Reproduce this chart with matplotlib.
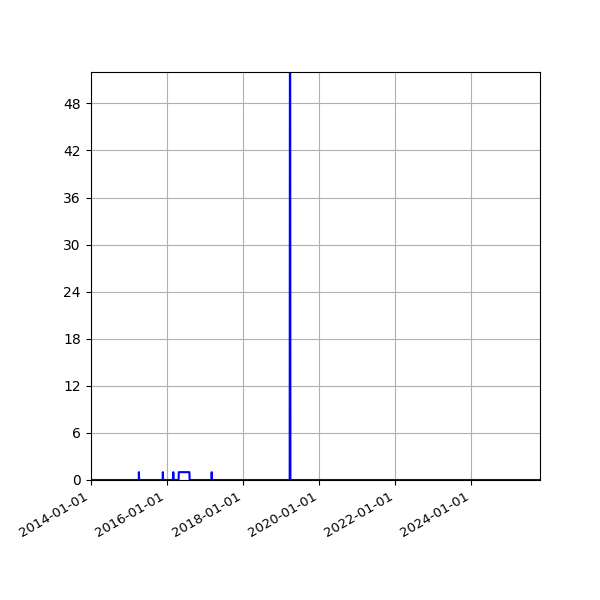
import numpy as np
import pandas as pd
import matplotlib
matplotlib.use('Agg')
import matplotlib.pyplot as plt
import matplotlib.dates as mdates
from matplotlib.ticker import MultipleLocator

# rango de la serie diaria
inicio = '2014-01-01'
fin = '2025-10-26'

# eventos (inicio, fin, valor); fuera de ellos la serie vale 0
ev_inicio = ['2015-04-10', '2015-11-26', '2016-03-05', '2016-04-26', '2017-03-09', '2019-03-29']
ev_fin    = ['2015-04-10', '2015-11-26', '2016-03-05', '2016-08-07', '2017-03-09', '2019-04-02']
ev_valor  = [1, 1, 1, 1, 1, 52]

fechas = pd.date_range(inicio, fin, freq='D')
serie = pd.Series(0.0, index=fechas)
for a, b, v in zip(ev_inicio, ev_fin, ev_valor):
	serie[a:b] = v

fig, ax = plt.subplots(figsize=(6, 6), dpi=100)
ax.plot(serie.index, serie.values, 'b-')
ax.set_xlim(fechas[0], fechas[-1])
ax.set_ylim(0, max(ev_valor))
ax.yaxis.set_major_locator(MultipleLocator(6))
ax.xaxis.set_major_locator(mdates.YearLocator(2))
ax.xaxis.set_major_formatter(mdates.DateFormatter('%Y-%m-%d'))
ax.tick_params(axis='x', labelsize=9.5)
ax.grid(True)
fig.autofmt_xdate()
fig.subplots_adjust(left=0.151, right=0.9, top=0.88, bottom=0.2)
plt.savefig('out.png')
